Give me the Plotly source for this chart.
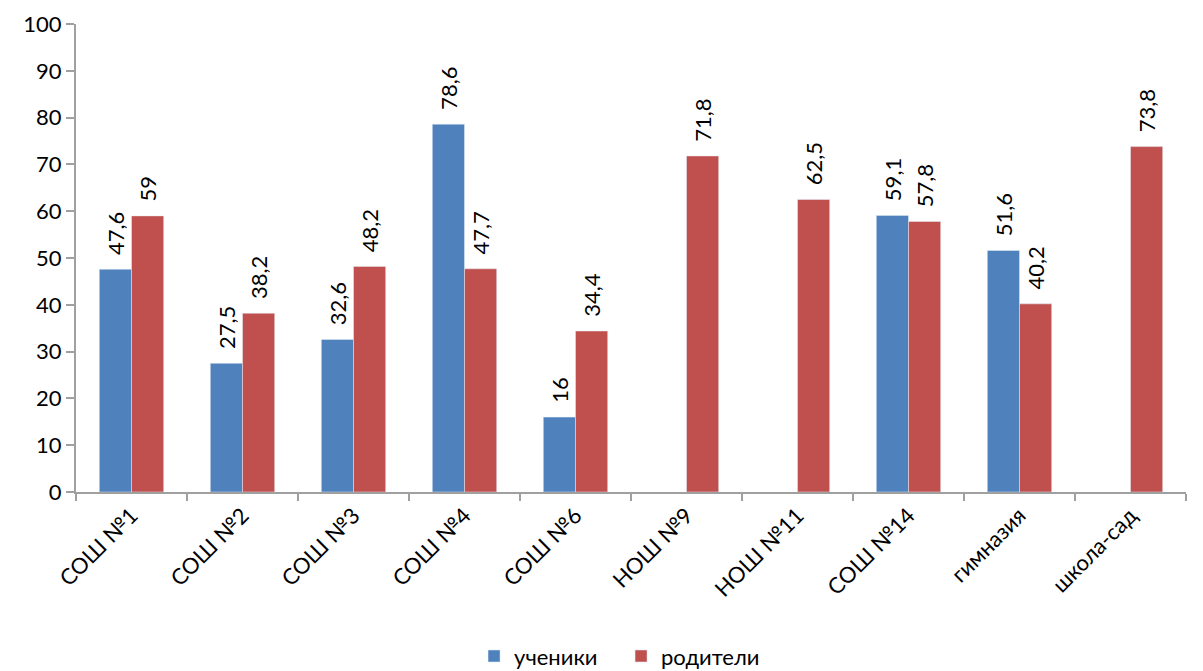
import plotly.graph_objects as go

categories = ["СОШ №1", "СОШ №2", "СОШ №3", "СОШ №4", "СОШ №6", "НОШ №9", "НОШ №11", "СОШ №14", "гимназия", "школа-сад"]
students = [47.6, 27.5, 32.6, 78.6, 16, None, None, 59.1, 51.6, None]
parents = [59, 38.2, 48.2, 47.7, 34.4, 71.8, 62.5, 57.8, 40.2, 73.8]
y_ticks = list(range(0, 101, 10))

FONT = "Lato, Open Sans, sans-serif"
FS = 22
PAD = "\u00a0\u00a0"

fig = go.Figure()
fig.add_trace(go.Bar(
    x=categories, y=students, name="ученики", marker_color="#4F81BD",
    text=students, texttemplate=PAD + "%{y}", textposition="outside", textangle=-90,
    constraintext="none",
    textfont=dict(size=FS, color="#000000", family=FONT), cliponaxis=False,
))
fig.add_trace(go.Bar(
    x=categories, y=parents, name="родители", marker_color="#C0504D",
    text=parents, texttemplate=PAD + "%{y}", textposition="outside", textangle=-90,
    constraintext="none",
    textfont=dict(size=FS, color="#000000", family=FONT), cliponaxis=False,
))

fig.update_layout(
    width=1203, height=671,
    margin=dict(l=68, r=25, t=16, b=187),
    plot_bgcolor="white", paper_bgcolor="white",
    barmode="group", bargap=0.42, bargroupgap=0,
    separators=", ",
    font=dict(family=FONT, size=FS, color="#000000"),
    showlegend=True,
    legend=dict(orientation="h", xref="paper", x=0.3586, xanchor="left",
                yref="container", y=0.034, yanchor="middle",
                font=dict(size=FS, family=FONT), itemwidth=30, entrywidth=102),
)
fig.update_xaxes(
    showline=True, linecolor="#A0A0A0", linewidth=2, ticks="outside", ticklen=7,
    tickcolor="#A0A0A0", tickwidth=2, tickson="boundaries", tickangle=-45,
    tickfont=dict(size=FS, family=FONT), showgrid=False, automargin=False,
)
fig.update_yaxes(
    range=[0, 100], tickvals=y_ticks, showline=True, linecolor="#A0A0A0", linewidth=2,
    ticks="outside", ticklen=8, tickcolor="#A0A0A0", tickwidth=2, showgrid=False,
    tickfont=dict(size=FS, family=FONT), zeroline=False, automargin=False,
)

fig.write_html("out.html")
